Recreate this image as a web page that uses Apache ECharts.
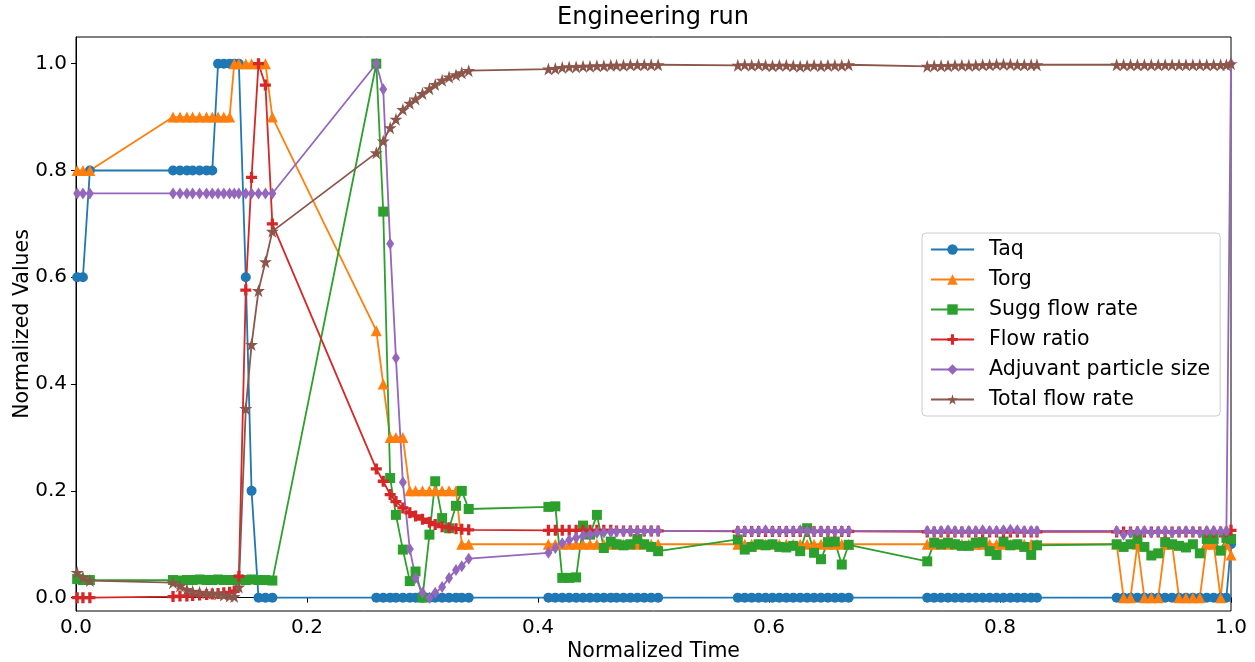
<!DOCTYPE html>
<html>
<head>
<meta charset="utf-8">
<script src="https://cdn.jsdelivr.net/npm/echarts@6/dist/echarts.min.js"></script>
<style>
  html, body { margin: 0; padding: 0; background: #fff; }
  #chart { width: 1255px; height: 662px; }
</style>
</head>
<body>
<div id="chart"></div>
<script>
// Temps normalisés (communs à toutes les séries)
const time = [
  0.001, 0.006, 0.012,
  0.084, 0.090, 0.096, 0.101, 0.107, 0.113, 0.118, 0.123, 0.128, 0.133, 0.137, 0.141, 0.147, 0.152, 0.158, 0.164, 0.170,
  0.260, 0.266, 0.272, 0.277, 0.283, 0.289, 0.294, 0.300, 0.306, 0.311, 0.317, 0.323, 0.329, 0.334, 0.340,
  0.409, 0.415, 0.421, 0.427, 0.433, 0.439, 0.445, 0.451, 0.457, 0.463, 0.468, 0.474, 0.480, 0.486, 0.492, 0.498, 0.504,
  0.573, 0.579, 0.585, 0.591, 0.597, 0.603, 0.609, 0.615, 0.621, 0.627, 0.633, 0.639, 0.645, 0.651, 0.657, 0.663, 0.669,
  0.737, 0.743, 0.749, 0.755, 0.761, 0.767, 0.773, 0.779, 0.785, 0.791, 0.797, 0.803, 0.809, 0.815, 0.821, 0.827, 0.832,
  0.901, 0.907, 0.913, 0.919, 0.925, 0.931, 0.937, 0.943, 0.949, 0.955, 0.961, 0.967, 0.973, 0.979, 0.985, 0.991, 0.996,
  1.0
];

const taq = [
  0.6, 0.6, 0.8,
  0.8, 0.8, 0.8, 0.8, 0.8, 0.8, 0.8, 1, 1, 1, 1, 1, 0.6, 0.2, 0, 0, 0,
  0, 0, 0, 0, 0, 0, 0, 0, 0, 0, 0, 0, 0, 0, 0,
  0, 0, 0, 0, 0, 0, 0, 0, 0, 0, 0, 0, 0, 0, 0, 0, 0,
  0, 0, 0, 0, 0, 0, 0, 0, 0, 0, 0, 0, 0, 0, 0, 0, 0,
  0, 0, 0, 0, 0, 0, 0, 0, 0, 0, 0, 0, 0, 0, 0, 0, 0,
  0, 0, 0, 0, 0, 0, 0, 0, 0, 0, 0, 0, 0, 0, 0, 0, 0,
  0.1
];

const torg = [
  0.8, 0.8, 0.8,
  0.9, 0.9, 0.9, 0.9, 0.9, 0.9, 0.9, 0.9, 0.9, 0.9, 1, 1, 1, 1, 1, 1, 0.9,
  0.5, 0.4, 0.3, 0.3, 0.3, 0.2, 0.2, 0.2, 0.2, 0.2, 0.2, 0.2, 0.2, 0.1, 0.1,
  0.1, 0.1, 0.1, 0.1, 0.1, 0.1, 0.1, 0.1, 0.1, 0.1, 0.1, 0.1, 0.1, 0.1, 0.1, 0.1, 0.1,
  0.1, 0.1, 0.1, 0.1, 0.1, 0.1, 0.1, 0.1, 0.1, 0.1, 0.1, 0.1, 0.1, 0.1, 0.1, 0.1, 0.1,
  0.1, 0.1, 0.1, 0.1, 0.1, 0.1, 0.1, 0.1, 0.1, 0.1, 0.1, 0.1, 0.1, 0.1, 0.1, 0.1, 0.1,
  0.1, 0, 0, 0.1, 0, 0, 0, 0.1, 0.1, 0, 0, 0, 0, 0.1, 0.1, 0, 0.1,
  0.08
];

const sugg = [
  0.035, 0.033, 0.033,
  0.033, 0.032, 0.033, 0.033, 0.034, 0.033, 0.033, 0.034, 0.033, 0.033, 0.033, 0.034, 0.033, 0.034, 0.033, 0.033, 0.032,
  1.0, 0.723, 0.224, 0.155, 0.090, 0.031, 0.049, 0.0, 0.118, 0.218, 0.149, 0.130, 0.172, 0.200, 0.166,
  0.170, 0.171, 0.037, 0.037, 0.038, 0.135, 0.118, 0.155, 0.093, 0.105, 0.100, 0.098, 0.100, 0.110, 0.100, 0.095, 0.087,
  0.109, 0.090, 0.095, 0.100, 0.098, 0.100, 0.095, 0.094, 0.097, 0.087, 0.130, 0.084, 0.072, 0.104, 0.105, 0.062, 0.099,
  0.068, 0.103, 0.100, 0.103, 0.100, 0.097, 0.097, 0.103, 0.104, 0.087, 0.080, 0.105, 0.098, 0.100, 0.095, 0.080, 0.098,
  0.100, 0.095, 0.100, 0.110, 0.095, 0.079, 0.083, 0.104, 0.100, 0.097, 0.094, 0.100, 0.083, 0.110, 0.110, 0.088, 0.112,
  0.11
];

const flowRatio = [
  0, 0, 0,
  0.002, 0.003, 0.003, 0.004, 0.005, 0.006, 0.007, 0.008, 0.009, 0.010, 0.012, 0.04, 0.576, 0.787, 1.0, 0.96, 0.70,
  0.241, 0.218, 0.193, 0.180, 0.168, 0.159, 0.153, 0.147, 0.141, 0.137, 0.133, 0.131, 0.129, 0.128, 0.127,
  0.126, 0.126, 0.126, 0.126, 0.126, 0.126, 0.126, 0.126, 0.126, 0.126, 0.125, 0.125, 0.125, 0.125, 0.125, 0.125, 0.125,
  0.124, 0.124, 0.124, 0.124, 0.124, 0.124, 0.124, 0.124, 0.124, 0.124, 0.124, 0.124, 0.124, 0.124, 0.124, 0.124, 0.124,
  0.123, 0.123, 0.123, 0.123, 0.123, 0.123, 0.123, 0.123, 0.123, 0.123, 0.123, 0.123, 0.123, 0.123, 0.123, 0.123, 0.123,
  0.123, 0.123, 0.123, 0.123, 0.123, 0.123, 0.123, 0.123, 0.123, 0.123, 0.123, 0.123, 0.123, 0.123, 0.123, 0.123, 0.123,
  0.126
];

const particleSize = [
  0.757, 0.757, 0.757,
  0.757, 0.757, 0.757, 0.757, 0.757, 0.757, 0.757, 0.757, 0.757, 0.757, 0.757, 0.757, 0.757, 0.757, 0.757, 0.757, 0.757,
  1.0, 0.952, 0.663, 0.449, 0.216, 0.091, 0.037, 0.009, 0.0, 0.009, 0.020, 0.037, 0.052, 0.059, 0.073,
  0.084, 0.093, 0.102, 0.108, 0.112, 0.116, 0.118, 0.121, 0.122, 0.123, 0.124, 0.124, 0.125, 0.125, 0.125, 0.125, 0.125,
  0.125, 0.125, 0.124, 0.125, 0.126, 0.125, 0.124, 0.125, 0.125, 0.126, 0.125, 0.124, 0.125, 0.125, 0.124, 0.125, 0.125,
  0.125, 0.124, 0.125, 0.126, 0.125, 0.124, 0.125, 0.125, 0.126, 0.125, 0.125, 0.126, 0.127, 0.126, 0.125, 0.125, 0.125,
  0.125, 0.118, 0.122, 0.124, 0.125, 0.122, 0.124, 0.125, 0.122, 0.124, 0.125, 0.124, 0.122, 0.125, 0.125, 0.124, 0.125,
  1.0
];

const totalFlow = [
  0.047, 0.038, 0.032,
  0.028, 0.022, 0.015, 0.012, 0.010, 0.009, 0.008, 0.007, 0.005, 0.003, 0.002, 0.020, 0.354, 0.474, 0.575, 0.629, 0.686,
  0.833, 0.855, 0.880, 0.896, 0.914, 0.926, 0.934, 0.944, 0.953, 0.961, 0.969, 0.975, 0.979, 0.983, 0.987,
  0.990, 0.991, 0.993, 0.994, 0.994, 0.995, 0.995, 0.996, 0.996, 0.997, 0.997, 0.997, 0.998, 0.998, 0.998, 0.998, 0.998,
  0.997, 0.998, 0.997, 0.998, 0.997, 0.996, 0.997, 0.997, 0.996, 0.995, 0.996, 0.997, 0.996, 0.997, 0.997, 0.997, 0.998,
  0.995, 0.996, 0.996, 0.996, 0.997, 0.997, 0.997, 0.997, 0.998, 0.998, 0.999, 0.999, 0.999, 0.998, 0.998, 0.998, 0.998,
  0.998, 0.998, 0.998, 0.998, 0.998, 0.998, 0.998, 0.998, 0.998, 0.998, 0.998, 0.998, 0.998, 0.998, 0.998, 0.998, 0.998,
  1.0
];

const yTicks = [0, 0.2, 0.4, 0.6, 0.8, 1.0];

// Symboles matplotlib
const plusPath = 'path://M35,0H65V35H100V65H65V100H35V65H0V35H35Z';
const starPath = 'path://M50,0L61.8,36.2L100,36.2L69.1,58.8L80.9,95.1L50,72.6L19.1,95.1L30.9,58.8L0,36.2L38.2,36.2Z';

const seriesDefs = [
  { name: 'Taq', values: taq, color: '#1f77b4', symbol: 'circle', size: 10 },
  { name: 'Torg', values: torg, color: '#ff7f0e', symbol: 'triangle', size: 11 },
  { name: 'Sugg flow rate', values: sugg, color: '#2ca02c', symbol: 'rect', size: 10 },
  { name: 'Flow ratio', values: flowRatio, color: '#d62728', symbol: plusPath, size: 11 },
  { name: 'Adjuvant particle size', values: particleSize, color: '#9467bd', symbol: 'diamond', size: [8, 12] },
  { name: 'Total flow rate', values: totalFlow, color: '#8c564b', symbol: starPath, size: 13 }
];

const font = 'DejaVu Sans';
const chart = echarts.init(document.getElementById('chart'), null, { renderer: 'canvas' });

const option = {
  animation: false,
  backgroundColor: '#fff',
  title: {
    text: 'Engineering run',
    left: 648,
    top: 1,
    textAlign: 'center',
    textStyle: { fontFamily: font, fontSize: 24, fontWeight: 'normal', color: '#000' }
  },
  legend: {
    orient: 'vertical',
    left: 922,
    top: 233,
    padding: [6, 10, 6, 8],
    itemWidth: 43,
    itemHeight: 13,
    itemGap: 9,
    borderColor: '#ccc',
    borderWidth: 1,
    borderRadius: 4,
    backgroundColor: '#fff',
    textStyle: { fontFamily: font, fontSize: 20.5, color: '#000', padding: [0, 0, 0, 10] },
    data: seriesDefs.map(s => s.name)
  },
  grid: {
    left: 76, right: 24, top: 37, bottom: 51,
    outerBoundsMode: 'none',
    containLabel: false,
    show: true, borderColor: '#000', borderWidth: 1
  },
  xAxis: {
    type: 'value',
    min: 0, max: 1, interval: 0.2,
    name: 'Normalized Time',
    nameLocation: 'middle',
    nameGap: 30,
    nameMoveOverlap: false,
    nameTextStyle: { fontFamily: font, fontSize: 20.5, color: '#000' },
    axisLine: { lineStyle: { color: '#000', width: 1 } },
    axisTick: { show: true, inside: false, length: 5, lineStyle: { color: '#000' } },
    axisLabel: { fontFamily: font, fontSize: 20, color: '#000', margin: 7,
      formatter: v => v.toFixed(1) },
    splitLine: { show: false }
  },
  yAxis: {
    type: 'value',
    min: -0.025, max: 1.05,
    name: 'Normalized Values',
    nameLocation: 'middle',
    nameGap: 43,
    nameMoveOverlap: false,
    nameTextStyle: { fontFamily: font, fontSize: 20.5, color: '#000' },
    axisLine: { show: true, lineStyle: { color: '#000', width: 1 } },
    axisTick: { show: true, inside: false, length: 5, lineStyle: { color: '#000' }, customValues: yTicks },
    axisLabel: { fontFamily: font, fontSize: 20, color: '#000', margin: 9, customValues: yTicks,
      formatter: v => v.toFixed(1) },
    splitLine: { show: false }
  },
  series: seriesDefs.map(s => ({
    name: s.name,
    type: 'line',
    data: time.map((t, i) => [t, s.values[i]]),
    symbol: s.symbol,
    symbolSize: s.size,
    showAllSymbol: true,
    color: s.color,
    itemStyle: { color: s.color },
    lineStyle: { color: s.color, width: 1.8 },
    emphasis: { disabled: true }
  }))
};

chart.setOption(option);
</script>
</body>
</html>
